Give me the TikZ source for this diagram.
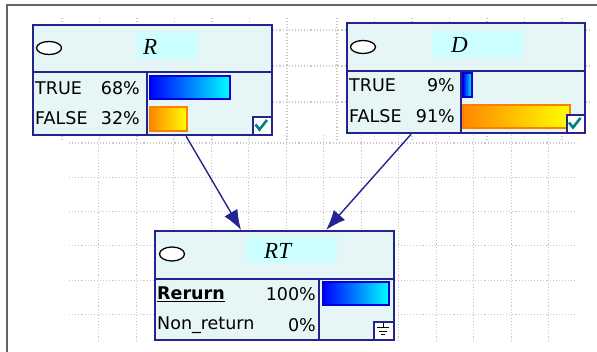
\documentclass[tikz,border=0pt]{standalone}
\usepackage{fontspec}
\setmainfont{DejaVu Sans}
\newfontfamily\titlefont{Liberation Serif}
\usetikzlibrary{arrows.meta}

\definecolor{netnavy}{RGB}{36,36,145}
\definecolor{netfill}{RGB}{230,245,245}
\definecolor{netname}{RGB}{204,255,255}
\definecolor{gridgray}{RGB}{200,200,200}
\definecolor{checkteal}{RGB}{0,128,128}
\definecolor{barorange}{RGB}{255,136,0}
\definecolor{framegray}{RGB}{100,100,100}

\tikzset{
  netbox/.style={draw=netnavy, line width=2.2pt, fill=netfill, inner sep=0pt, anchor=north west},
  netline/.style={draw=netnavy, line width=2.2pt},
  namebox/.style={fill=netname, inner sep=0pt, anchor=north west},
  statelabel/.style={anchor=west, inner sep=0pt, font=\fontsize{17.5}{20}\selectfont},
  pctlabel/.style={anchor=east, inner sep=0pt, font=\fontsize{17.5}{20}\selectfont},
  nodetitle/.style={anchor=west, inner sep=0pt, font=\titlefont\itshape\fontsize{23}{26}\selectfont},
  bluebar/.style={left color=blue, right color=cyan, draw=blue!85!black, line width=1.2pt},
  orangebar/.style={left color=barorange, right color=yellow, draw=orange, line width=1.2pt},
  flag/.style={draw=netnavy, line width=1.6pt, fill=white, inner sep=0pt, anchor=north west},
  link/.style={draw=netnavy, line width=1.4pt, -{Latex[length=20pt,width=15pt]}},
  griddots/.style={gridgray, dotted, line width=1.1pt},
}

\begin{document}
\begin{tikzpicture}[x=1pt,y=-1pt]
\useasboundingbox (0,0) rectangle (597,352);

% background grid
\foreach \gx in {62,99.5,...,288} \draw[griddots] (\gx,18) -- (\gx,140);
\foreach \gx in {337,374.5,...,563} \draw[griddots] (\gx,18) -- (\gx,140);
\foreach \gy in {30,66,102} \draw[griddots] (50,\gy) -- (590,\gy);
\foreach \gy in {143,177.3,...,315} \draw[griddots] (69,\gy) -- (577,\gy);
\foreach \gx in {98.7,136.2,...,549} \draw[griddots] (\gx,135) -- (\gx,341);

% frame
\draw[framegray, line width=2pt] (7,352) -- (7,5) -- (597,5);

% node R
\node[netbox, minimum width=239pt, minimum height=110pt] (R) at (32,24) {};
\draw[netline] (32,72) -- (271,72);
\draw[netline] (147,72) -- (147,134);
\node[namebox, minimum width=61pt, minimum height=26pt] (R-name) at (137,33) {};
\node[nodetitle] at (143,47) {R};
\draw[fill=white, line width=1.3pt] (49,48) ellipse [x radius=12.5, y radius=6.5];
\node[statelabel] at (35,88) {TRUE};
\node[pctlabel] at (140,88) {68\%};
\node[statelabel] at (35,118) {FALSE};
\node[pctlabel] at (140,118) {32\%};
\draw[bluebar] (150,76) rectangle (230,99);
\draw[orangebar] (150,107) rectangle (187,131);
\node[flag, minimum width=19pt, minimum height=18pt] (R-check) at (252,116) {};
\draw[checkteal, line width=2.6pt] (255.5,124.5) -- (259.5,129.5) -- (267,120);

% node D
\node[netbox, minimum width=238pt, minimum height=110pt] (D) at (346,22) {};
\draw[netline] (346,71) -- (584,71);
\draw[netline] (461,71) -- (461,132);
\node[namebox, minimum width=91pt, minimum height=26pt] (D-name) at (432,31) {};
\node[nodetitle] at (451,45) {D};
\draw[fill=white, line width=1.3pt] (363,47) ellipse [x radius=12.5, y radius=6.5];
\node[statelabel] at (349,85) {TRUE};
\node[pctlabel] at (455,85) {9\%};
\node[statelabel] at (349,116) {FALSE};
\node[pctlabel] at (455,116) {91\%};
\draw[bluebar] (463,73) rectangle (472,97);
\draw[orangebar] (463,105) rectangle (570,128);
\node[flag, minimum width=18pt, minimum height=18pt] (D-check) at (566,114) {};
\draw[checkteal, line width=2.6pt] (569,122.5) -- (573,127.5) -- (580.5,118);

% node RT
\node[netbox, minimum width=239pt, minimum height=109pt] (RT) at (154,230) {};
\draw[netline] (154,279) -- (393,279);
\draw[netline] (319,279) -- (319,339);
\node[namebox, minimum width=91pt, minimum height=26pt] (RT-name) at (246,237) {};
\node[nodetitle] at (264,251) {RT};
\draw[fill=white, line width=1.3pt] (172,254) ellipse [x radius=12.5, y radius=7];
\node[statelabel] at (157,294) {\underline{\textbf{Rerurn}}};
\node[pctlabel] at (316,294) {100\%};
\node[statelabel] at (157,325) {Non\_return};
\node[pctlabel] at (316,325) {0\%};
\draw[bluebar] (323,282) rectangle (389,305);
\node[flag, minimum width=20pt, minimum height=18pt] (RT-ground) at (373,321) {};
\draw[line width=1pt] (383,323) -- (383,328);
\draw[line width=1pt] (377,328) -- (389,328);
\draw[line width=1pt] (379,331.5) -- (387,331.5);
\draw[line width=1pt] (381,335) -- (385,335);

% links
\draw[link] ([xshift=33.5pt]R.south) -- ([xshift=-33.5pt]RT.north);
\draw[link] ([xshift=-55pt]D.south) -- ([xshift=51.5pt]RT.north);

\end{tikzpicture}
\end{document}
